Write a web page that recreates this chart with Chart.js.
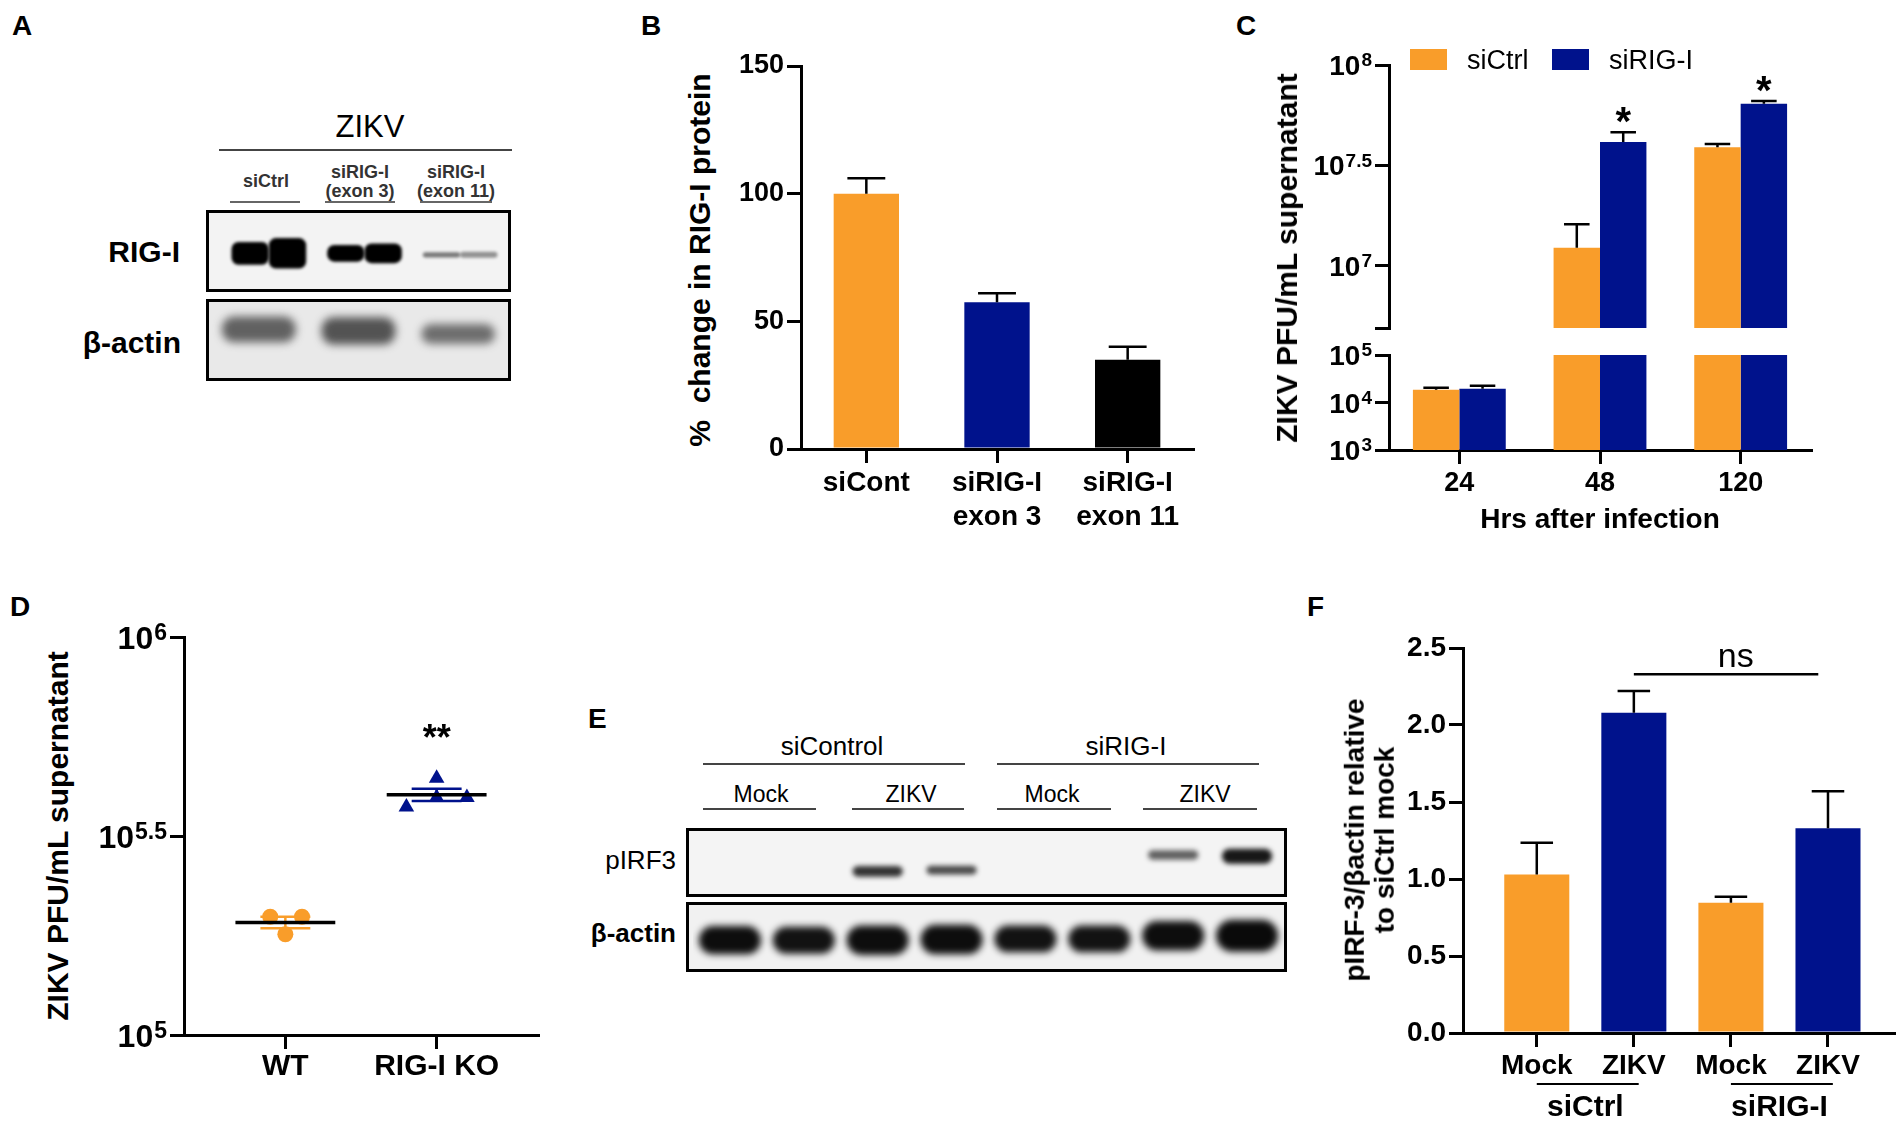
<!DOCTYPE html>
<html><head><meta charset="utf-8">
<script src="https://cdn.jsdelivr.net/npm/chart.js@4.4.1/dist/chart.umd.min.js"></script>
<style>
html,body{margin:0;padding:0;background:#fff;}
body{width:1904px;height:1125px;position:relative;overflow:hidden;font-family:"Liberation Sans",Arial,sans-serif;color:#000;}
canvas{position:absolute;}
.t{position:absolute;white-space:nowrap;transform:translate(-50%,-50%);line-height:1;}
.tr{position:absolute;white-space:nowrap;transform:translate(-100%,-50%);line-height:1;}
.tl{position:absolute;white-space:nowrap;transform:translate(0,-50%);line-height:1;}
.rot{position:absolute;white-space:nowrap;transform:translate(-50%,-50%) rotate(-90deg);font-weight:bold;text-align:center;}
.box{position:absolute;border:3px solid #000;box-sizing:border-box;overflow:hidden;}
.box canvas{left:0;top:0;}
.hl{position:absolute;height:2px;background:#555;}
.letter{position:absolute;font-weight:bold;font-size:28px;transform:translate(0,-50%);line-height:1;}
.sw{position:absolute;}
</style></head><body>

<!-- panel letters -->
<div class="letter" style="left:12px;top:26px">A</div>
<div class="letter" style="left:641px;top:26px">B</div>
<div class="letter" style="left:1236px;top:26px">C</div>
<div class="letter" style="left:10px;top:607px">D</div>
<div class="letter" style="left:588px;top:719px">E</div>
<div class="letter" style="left:1307px;top:607px">F</div>

<!-- Panel A blot -->
<div class="t" style="left:370px;top:126px;font-size:31px">ZIKV</div>
<div class="hl" style="left:219px;top:149px;width:293px;background:#444"></div>
<div class="t" style="left:266px;top:181px;font-size:18px;font-weight:bold;color:#333">siCtrl</div>
<div class="t" style="left:360px;top:172px;font-size:18px;font-weight:bold;color:#333">siRIG-I</div>
<div class="t" style="left:360px;top:191px;font-size:18px;font-weight:bold;color:#333">(exon 3)</div>
<div class="t" style="left:456px;top:172px;font-size:18px;font-weight:bold;color:#333">siRIG-I</div>
<div class="t" style="left:456px;top:191px;font-size:18px;font-weight:bold;color:#333">(exon 11)</div>
<div class="hl" style="left:230px;top:201px;width:70px;background:#666"></div>
<div class="hl" style="left:325px;top:201px;width:70px;background:#666"></div>
<div class="hl" style="left:420px;top:201px;width:72px;background:#666"></div>
<div class="tr" style="left:180px;top:252px;font-size:30px;font-weight:bold">RIG-I</div>
<div class="tr" style="left:181px;top:343px;font-size:30px;font-weight:bold">β-actin</div>
<div class="box" style="left:206px;top:210px;width:305px;height:82px;background:#f3f3f3"><canvas id="blotARig" width="299" height="76"></canvas></div>
<div class="box" style="left:206px;top:299px;width:305px;height:82px;background:#e9e9e9"><canvas id="blotAActin" width="299" height="76"></canvas></div>

<!-- Panel B -->
<canvas id="chartB" width="490" height="510" style="left:720px;top:40px"></canvas>
<div class="rot" style="left:700px;top:260px;font-size:30px">%&nbsp;&nbsp;change in RIG-I protein</div>

<!-- Panel C -->
<canvas id="chartCTop" width="530" height="320" style="left:1300px;top:20px"></canvas>
<canvas id="chartCBot" width="530" height="215" style="left:1300px;top:335px"></canvas>
<div class="rot" style="left:1287px;top:258px;font-size:30px">ZIKV PFU/mL supernatant</div>
<div class="t" style="left:1600px;top:519px;font-size:28px;font-weight:bold">Hrs after infection</div>
<div class="sw" style="left:1410px;top:49px;width:37px;height:21px;background:#F99D2A"></div>
<div class="tl" style="left:1467px;top:60px;font-size:27px">siCtrl</div>
<div class="sw" style="left:1552px;top:49px;width:37px;height:21px;background:#00128C"></div>
<div class="tl" style="left:1609px;top:60px;font-size:27px">siRIG-I</div>

<!-- Panel D -->
<canvas id="chartD" width="470" height="490" style="left:90px;top:610px"></canvas>
<div class="rot" style="left:58px;top:836px;font-size:30px">ZIKV PFU/mL supernatant</div>

<!-- Panel E blot -->
<div class="t" style="left:832px;top:746px;font-size:26px">siControl</div>
<div class="hl" style="left:703px;top:763px;width:262px;background:#444"></div>
<div class="t" style="left:1126px;top:746px;font-size:26px">siRIG-I</div>
<div class="hl" style="left:997px;top:763px;width:262px;background:#444"></div>
<div class="t" style="left:761px;top:794px;font-size:23px">Mock</div>
<div class="t" style="left:911px;top:794px;font-size:23px">ZIKV</div>
<div class="t" style="left:1052px;top:794px;font-size:23px">Mock</div>
<div class="t" style="left:1205px;top:794px;font-size:23px">ZIKV</div>
<div class="hl" style="left:703px;top:808px;width:113px;background:#444"></div>
<div class="hl" style="left:852px;top:808px;width:112px;background:#444"></div>
<div class="hl" style="left:997px;top:808px;width:114px;background:#444"></div>
<div class="hl" style="left:1143px;top:808px;width:114px;background:#444"></div>
<div class="tr" style="left:676px;top:860px;font-size:26px">pIRF3</div>
<div class="tr" style="left:676px;top:933px;font-size:26px;font-weight:bold">β-actin</div>
<div class="box" style="left:686px;top:828px;width:601px;height:69px;background:#f4f4f4"><canvas id="blotEPirf" width="595" height="63"></canvas></div>
<div class="box" style="left:686px;top:902px;width:601px;height:70px;background:#f1f1f1"><canvas id="blotEActin" width="595" height="64"></canvas></div>

<!-- Panel F -->
<canvas id="chartF" width="520" height="505" style="left:1380px;top:620px"></canvas>
<div class="rot" style="left:1370px;top:840px;font-size:28px;line-height:1.08">pIRF-3/βactin relative<br>to siCtrl mock</div>

<script>
// ---------------- DATA ----------------
const ORANGE = '#F99D2A', BLUE = '#00128C', BLACK = '#000000';

// Panel A blot (band intensity 0..1, vertical centre & thickness as fraction of the strip)
const aLanes = ['siCtrl', 'siRIG-I (exon 3)', 'siRIG-I (exon 11)'];
const aRigIntensity1 = [1.0, 1.0, 0.5];
const aRigIntensity2 = [1.0, 1.0, 0.4];
const aRigThick1 = [0.30, 0.22, 0.07];
const aRigThick2 = [0.40, 0.26, 0.08];
const aRigCenter = [0.47, 0.47, 0.45];
const aActinIntensity = [0.72, 0.8, 0.66];
const aActinCenter = [0.64, 0.62, 0.58];
const aActinThick = [0.34, 0.36, 0.26];

// Panel B
const bCategories = ['siCont', ['siRIG-I', 'exon 3'], ['siRIG-I', 'exon 11']];
const bValues = [100, 57.5, 35];
const bErrors = [6, 3.5, 5];
const bTicks = [0, 50, 100, 150];

// Panel C (PFU/mL)
const cHours = ['24', '48', '120'];
const cSiCtrl = [18600, 12300000, 38900000];
const cSiCtrlSem = [1800, 3800000, 1500000];
const cSiRIG = [19500, 41400000, 64100000];
const cSiRIGSem = [2900, 4800000, 2000000];
const cSig = ['', '*', '*'];
const cTopExp = [6.69, 7, 7.5, 8];      // upper segment ticks (first = segment end, unlabelled)
const cTopLabels = [7, 7.5, 8];
const cBotExp = [3, 4, 5];

// Panel D (PFU/mL)
const dGroups = ['WT', 'RIG-I KO'];
const dWT = [198200, 198200, 179100];
const dWTJitter = [-0.10, 0.11, 0.0];
const dKO = [374100, 441600, 395400, 395400];
const dKOJitter = [-0.20, 0.0, 0.0, 0.20];
const dExp = [5, 5.5, 6];
const dSig = ['', '**'];

// Panel E blot
const eLanes = ['Mock', 'Mock', 'ZIKV', 'ZIKV', 'Mock', 'Mock', 'ZIKV', 'ZIKV'];
const ePirfIntensity = [0, 0, 0.85, 0.75, 0, 0, 0.65, 0.97];
const ePirfCenter = [0.4, 0.4, 0.36, 0.38, 0.5, 0.5, 0.62, 0.60];
const ePirfThick = [0, 0, 0.17, 0.14, 0, 0, 0.15, 0.24];
const eActinIntensity = [0.97, 0.95, 0.97, 0.97, 0.95, 0.95, 0.97, 0.98];
const eActinCenter = [0.45, 0.45, 0.45, 0.46, 0.47, 0.47, 0.52, 0.52];
const eActinThick = [0.44, 0.42, 0.46, 0.46, 0.42, 0.42, 0.46, 0.5];

// Panel F
const fLabels = ['Mock', 'ZIKV', 'Mock', 'ZIKV'];
const fValues = [1.03, 2.08, 0.845, 1.33];
const fErrors = [0.205, 0.14, 0.04, 0.24];
const fColors = [ORANGE, BLUE, ORANGE, BLUE];
const fGroups = [{label: 'siCtrl', from: 0, to: 1}, {label: 'siRIG-I', from: 2, to: 3}];
const fNs = {from: 1, to: 3, value: 2.33, text: 'ns'};
const fTicks = [0, 0.5, 1.0, 1.5, 2.0, 2.5];

// ---------------- HELPERS ----------------
const FONT = '"Liberation Sans", Arial, sans-serif';
Chart.defaults.font.family = FONT;
Chart.defaults.color = '#000';

const tickGrid = {display: true, drawOnChartArea: false, drawTicks: true, tickLength: 14,
  color: '#000', lineWidth: 3, tickWidth: 3, tickColor: '#000'};
const axisBorder = {display: true, color: '#000', width: 3};
function zeroPad(s) { s.paddingLeft = 0; s.paddingRight = 0; s.paddingTop = 0; s.paddingBottom = 0; }
const baseOpts = {responsive: false, animation: false, events: []};

const errorBarPlugin = {
  id: 'errBars',
  afterDatasetsDraw(chart, args, opts) {
    const {ctx, chartArea} = chart;
    ctx.save();
    ctx.beginPath();
    ctx.rect(chartArea.left - 40, chartArea.top - 2, chartArea.width + 80, chartArea.height + 2);
    ctx.clip();
    chart.data.datasets.forEach((ds, di) => {
      if (!ds.errors) return;
      const meta = chart.getDatasetMeta(di);
      const ys = chart.scales[meta.yAxisID];
      meta.data.forEach((bar, i) => {
        const raw = ds.data[i];
        const v = (raw && typeof raw === 'object') ? raw.y : raw;
        if (v == null) return;
        const yTop = ys.getPixelForValue(v + ds.errors[i]);
        const w = bar.width * (opts.capRatio || 0.5);
        ctx.strokeStyle = '#000';
        ctx.lineWidth = opts.lineWidth || 2.5;
        ctx.beginPath();
        ctx.moveTo(bar.x, bar.y);
        ctx.lineTo(bar.x, yTop);
        ctx.moveTo(bar.x - w / 2, yTop);
        ctx.lineTo(bar.x + w / 2, yTop);
        ctx.stroke();
      });
    });
    ctx.restore();
    // significance marks
    chart.data.datasets.forEach((ds, di) => {
      if (!ds.sig) return;
      const meta = chart.getDatasetMeta(di);
      const ys = chart.scales[meta.yAxisID];
      meta.data.forEach((bar, i) => {
        const raw = ds.data[i];
        if (!ds.sig[i] || raw == null) return;
        const yTop = ys.getPixelForValue(raw + ds.errors[i]);
        ctx.save();
        ctx.fillStyle = '#000';
        ctx.font = 'bold ' + (opts.sigSize || 38) + 'px ' + FONT;
        ctx.textAlign = 'center';
        ctx.textBaseline = 'alphabetic';
        ctx.fillText(ds.sig[i], bar.x, yTop + (opts.sigOffset || 2));
        ctx.restore();
      });
    });
  }
};

const expLabelPlugin = {
  id: 'expLabels',
  afterDraw(chart, args, opts) {
    if (!opts || !opts.labels) return;
    const scale = chart.scales.y;
    const ctx = chart.ctx;
    const xr = scale.right - opts.tickLength - opts.pad;
    ctx.save();
    ctx.fillStyle = '#000';
    ctx.textBaseline = 'alphabetic';
    opts.labels.forEach(e => {
      const y = scale.getPixelForValue(Math.pow(10, e));
      const base = y + opts.baseSize * 0.36;
      const expStr = String(e);
      ctx.font = 'bold ' + opts.expSize + 'px ' + FONT;
      const we = ctx.measureText(expStr).width;
      ctx.textAlign = 'left';
      ctx.fillText(expStr, xr - we, base - 0.716 * (opts.baseSize - opts.expSize) - 0.08 * opts.baseSize);
      ctx.font = 'bold ' + opts.baseSize + 'px ' + FONT;
      ctx.textAlign = 'right';
      ctx.fillText('10', xr - we - 1, base);
    });
    ctx.restore();
  }
};

const meanSemPlugin = {
  id: 'meanSem',
  afterDatasetsDraw(chart, args, opts) {
    const {ctx} = chart;
    const xs = chart.scales.x, ys = chart.scales.y;
    chart.data.datasets.forEach(ds => {
      const vals = ds.data.map(p => p.y);
      const n = vals.length;
      const mean = vals.reduce((a, b) => a + b, 0) / n;
      const sd = Math.sqrt(vals.reduce((a, b) => a + (b - mean) * (b - mean), 0) / (n - 1));
      const sem = sd / Math.sqrt(n);
      const cx = ds.center;
      const ym = ys.getPixelForValue(mean);
      const yu = ys.getPixelForValue(mean + sem);
      const yl = ys.getPixelForValue(mean - sem);
      ctx.save();
      ctx.strokeStyle = ds.borderColor;
      ctx.lineWidth = opts.semWidth;
      ctx.beginPath();
      ctx.moveTo(xs.getPixelForValue(cx - opts.semHalf), yu); ctx.lineTo(xs.getPixelForValue(cx + opts.semHalf), yu);
      ctx.moveTo(xs.getPixelForValue(cx - opts.semHalf), yl); ctx.lineTo(xs.getPixelForValue(cx + opts.semHalf), yl);
      ctx.moveTo(xs.getPixelForValue(cx), yu); ctx.lineTo(xs.getPixelForValue(cx), yl);
      ctx.stroke();
      ctx.strokeStyle = '#000';
      ctx.lineWidth = opts.meanWidth;
      ctx.beginPath();
      ctx.moveTo(xs.getPixelForValue(cx - opts.meanHalf), ym); ctx.lineTo(xs.getPixelForValue(cx + opts.meanHalf), ym);
      ctx.stroke();
      if (ds.sig) {
        const ymax = ys.getPixelForValue(Math.max(...vals));
        ctx.fillStyle = '#000';
        ctx.font = 'bold 36px ' + FONT;
        ctx.textAlign = 'center';
        ctx.textBaseline = 'alphabetic';
        ctx.fillText(ds.sig, xs.getPixelForValue(cx), ymax - 28);
      }
      ctx.restore();
    });
  }
};

const fAnnotPlugin = {
  id: 'fAnnot',
  afterDraw(chart, args, opts) {
    const {ctx} = chart;
    const xs = chart.scales.x, ys = chart.scales.y;
    ctx.save();
    ctx.strokeStyle = '#000';
    ctx.fillStyle = '#000';
    // ns bracket
    const yNs = ys.getPixelForValue(fNs.value);
    ctx.lineWidth = 2.5;
    ctx.beginPath();
    ctx.moveTo(xs.getPixelForValue(fNs.from), yNs);
    ctx.lineTo(xs.getPixelForValue(fNs.to - 0.1), yNs);
    ctx.stroke();
    ctx.font = '34px ' + FONT;
    ctx.textAlign = 'center';
    ctx.textBaseline = 'alphabetic';
    ctx.fillText(fNs.text, xs.getPixelForValue((fNs.from + fNs.to) / 2 + 0.05), yNs - 7);
    // group labels under the axis
    ctx.lineWidth = 2;
    ctx.font = 'bold 30px ' + FONT;
    ctx.textBaseline = 'middle';
    fGroups.forEach(g => {
      const yl = xs.top + 51;
      ctx.beginPath();
      ctx.moveTo(xs.getPixelForValue(g.from), yl);
      ctx.lineTo(xs.getPixelForValue(g.to + 0.05), yl);
      ctx.stroke();
      ctx.fillText(g.label, xs.getPixelForValue((g.from + g.to) / 2), xs.top + 75);
    });
    ctx.restore();
  }
};

const blurPlugin = {
  id: 'blur',
  beforeDatasetsDraw(chart, args, opts) { chart.ctx.save(); chart.ctx.filter = 'blur(' + opts.px + 'px)'; },
  afterDatasetsDraw(chart) { chart.ctx.restore(); }
};

function bandData(center, thick) { return center.map((c, i) => [c - thick[i] / 2, c + thick[i] / 2]); }
function bandColors(intensity, rgb) { return intensity.map(a => 'rgba(' + rgb + ',' + a + ')'); }

function makeBlot(id, lanes, datasets, blurPx, catPct, padL, padR, radius) {
  new Chart(document.getElementById(id), {
    type: 'bar',
    data: {labels: lanes, datasets: datasets.map(d => Object.assign({
      borderSkipped: false, borderRadius: radius, borderWidth: 0,
      categoryPercentage: catPct, barPercentage: 1, grouped: true}, d))},
    options: Object.assign({}, baseOpts, {
      layout: {padding: {left: padL, right: padR, top: 0, bottom: 0}},
      scales: {x: {display: false}, y: {display: false, min: 0, max: 1}},
      plugins: {legend: {display: false}, tooltip: {enabled: false}, blur: {px: blurPx}}
    }),
    plugins: [blurPlugin]
  });
}

// ---------------- PANEL A ----------------
makeBlot('blotARig', aLanes, [
  {data: bandData(aRigCenter, aRigThick1), backgroundColor: bandColors(aRigIntensity1, '0,0,0')},
  {data: bandData(aRigCenter, aRigThick2), backgroundColor: bandColors(aRigIntensity2, '0,0,0')}
], 1.8, 0.78, 12, 0, 7);
makeBlot('blotAActin', aLanes, [
  {data: bandData(aActinCenter, aActinThick), backgroundColor: bandColors(aActinIntensity, '45,45,45')}
], 4, 0.74, 0, 0, 12);

// ---------------- PANEL B ----------------
new Chart(document.getElementById('chartB'), {
  type: 'bar',
  data: {labels: bCategories, datasets: [{data: bValues, errors: bErrors,
    backgroundColor: [ORANGE, BLUE, BLACK], barPercentage: 0.5, categoryPercentage: 1}]},
  options: Object.assign({}, baseOpts, {
    layout: {padding: {top: 26, right: 17, left: 0, bottom: 0}},
    scales: {
      x: {grid: Object.assign({}, tickGrid, {offset: false}), border: axisBorder,
        ticks: {font: {size: 28, weight: 'bold', lineHeight: 1.22}, padding: 3, maxRotation: 0, autoSkip: false},
        afterFit: s => { s.height = 101; zeroPad(s); }},
      y: {min: 0, max: 150, grid: tickGrid, border: axisBorder,
        ticks: {font: {size: 27, weight: 'bold'}, padding: 3},
        afterBuildTicks: s => { s.ticks = bTicks.map(v => ({value: v})); },
        afterFit: s => { s.width = 81; zeroPad(s); }}
    },
    plugins: {legend: {display: false}, tooltip: {enabled: false}, errBars: {capRatio: 0.58, lineWidth: 2.5}}
  }),
  plugins: [errorBarPlugin]
});

// ---------------- PANEL C ----------------
const cTopMin = Math.pow(10, cTopExp[0]);
new Chart(document.getElementById('chartCTop'), {
  type: 'bar',
  data: {labels: cHours, datasets: [
    {label: 'siCtrl', data: cSiCtrl.map(v => v >= cTopMin ? v : null), errors: cSiCtrlSem,
      backgroundColor: ORANGE, categoryPercentage: 0.66, barPercentage: 1},
    {label: 'siRIG-I', data: cSiRIG.map(v => v >= cTopMin ? v : null), errors: cSiRIGSem, sig: cSig,
      backgroundColor: BLUE, categoryPercentage: 0.66, barPercentage: 1}
  ]},
  options: Object.assign({}, baseOpts, {
    layout: {padding: {top: 45, right: 19, left: 0, bottom: 12}},
    scales: {
      x: {display: false},
      y: {type: 'logarithmic', min: cTopMin, max: 1e8, grid: tickGrid, border: axisBorder,
        ticks: {display: false},
        afterBuildTicks: s => { s.ticks = cTopExp.map(e => ({value: Math.pow(10, e)})); },
        afterFit: s => { s.width = 89; zeroPad(s); }}
    },
    plugins: {legend: {display: false}, tooltip: {enabled: false},
      errBars: {capRatio: 0.55, lineWidth: 2.5, sigSize: 40, sigOffset: 3},
      expLabels: {labels: cTopLabels, baseSize: 28, expSize: 19, tickLength: 14, pad: 3}}
  }),
  plugins: [errorBarPlugin, expLabelPlugin]
});

new Chart(document.getElementById('chartCBot'), {
  type: 'bar',
  data: {labels: cHours, datasets: [
    {label: 'siCtrl', data: cSiCtrl, errors: cSiCtrlSem, backgroundColor: ORANGE, categoryPercentage: 0.66, barPercentage: 1},
    {label: 'siRIG-I', data: cSiRIG, errors: cSiRIGSem, backgroundColor: BLUE, categoryPercentage: 0.66, barPercentage: 1}
  ]},
  options: Object.assign({}, baseOpts, {
    layout: {padding: {top: 20, right: 19, left: 0, bottom: 0}},
    scales: {
      x: {grid: Object.assign({}, tickGrid, {offset: false}), border: axisBorder,
        ticks: {font: {size: 27, weight: 'bold'}, padding: 3, maxRotation: 0, autoSkip: false},
        afterFit: s => { s.height = 100; zeroPad(s); }},
      y: {type: 'logarithmic', min: 1e3, max: 1e5, grid: tickGrid, border: axisBorder,
        ticks: {display: false},
        afterBuildTicks: s => { s.ticks = cBotExp.map(e => ({value: Math.pow(10, e)})); },
        afterFit: s => { s.width = 89; zeroPad(s); }}
    },
    plugins: {legend: {display: false}, tooltip: {enabled: false},
      errBars: {capRatio: 0.55, lineWidth: 2.5},
      expLabels: {labels: cBotExp, baseSize: 28, expSize: 19, tickLength: 14, pad: 3}}
  }),
  plugins: [errorBarPlugin, expLabelPlugin]
});

// ---------------- PANEL D ----------------
new Chart(document.getElementById('chartD'), {
  type: 'scatter',
  data: {datasets: [
    {label: dGroups[0], data: dWT.map((v, i) => ({x: 1 + dWTJitter[i], y: v})), center: 1, sig: dSig[0],
      pointStyle: 'circle', pointRadius: 8, backgroundColor: ORANGE, borderColor: ORANGE, borderWidth: 0},
    {label: dGroups[1], data: dKO.map((v, i) => ({x: 2 + dKOJitter[i], y: v})), center: 2, sig: dSig[1],
      pointStyle: 'triangle', pointRadius: 9, backgroundColor: BLUE, borderColor: BLUE, borderWidth: 0}
  ]},
  options: Object.assign({}, baseOpts, {
    layout: {padding: {top: 27, right: 22, left: 0, bottom: 0}},
    scales: {
      x: {type: 'linear', min: 0.33, max: 2.67, grid: tickGrid, border: axisBorder,
        afterBuildTicks: s => { s.ticks = dGroups.map((g, i) => ({value: i + 1})); },
        ticks: {font: {size: 30, weight: 'bold'}, padding: 0, maxRotation: 0, autoSkip: false,
          callback: (v, i) => dGroups[i]},
        afterFit: s => { s.height = 65; zeroPad(s); }},
      y: {type: 'logarithmic', min: 1e5, max: 1e6, grid: tickGrid, border: axisBorder,
        ticks: {display: false},
        afterBuildTicks: s => { s.ticks = dExp.map(e => ({value: Math.pow(10, e)})); },
        afterFit: s => { s.width = 94; zeroPad(s); }}
    },
    plugins: {legend: {display: false}, tooltip: {enabled: false},
      meanSem: {semWidth: 2.5, meanWidth: 3.5, semHalf: 0.165, meanHalf: 0.33},
      expLabels: {labels: dExp, baseSize: 32, expSize: 23, tickLength: 14, pad: 3}}
  }),
  plugins: [meanSemPlugin, expLabelPlugin]
});

// ---------------- PANEL E ----------------
makeBlot('blotEPirf', eLanes, [
  {data: bandData(ePirfCenter, ePirfThick), backgroundColor: bandColors(ePirfIntensity, '15,15,15')}
], 2.5, 0.68, 4, 0, 30);
makeBlot('blotEActin', eLanes, [
  {data: bandData(eActinCenter, eActinThick), backgroundColor: bandColors(eActinIntensity, '5,5,5')}
], 3.5, 0.84, 4, 0, 30);

// ---------------- PANEL F ----------------
new Chart(document.getElementById('chartF'), {
  type: 'bar',
  data: {datasets: [{data: fValues.map((v, i) => ({x: i, y: v})), errors: fErrors,
    backgroundColor: fColors, barPercentage: 0.67, categoryPercentage: 1}]},
  options: Object.assign({}, baseOpts, {
    layout: {padding: {top: 28, right: 6, left: 0, bottom: 0}},
    scales: {
      x: {type: 'linear', min: -0.76, max: 3.68, offset: false, grid: Object.assign({}, tickGrid, {offset: false}), border: axisBorder,
        afterBuildTicks: s => { s.ticks = fLabels.map((l, i) => ({value: i})); },
        ticks: {font: {size: 28, weight: 'bold'}, padding: 2, maxRotation: 0, autoSkip: false,
          callback: (v, i) => fLabels[i]},
        afterFit: s => { s.height = 92; zeroPad(s); }},
      y: {min: 0, max: 2.5, grid: tickGrid, border: axisBorder,
        afterBuildTicks: s => { s.ticks = fTicks.map(v => ({value: v})); },
        ticks: {font: {size: 28, weight: 'bold'}, padding: 3, callback: v => Number(v).toFixed(1)},
        afterFit: s => { s.width = 83; zeroPad(s); }}
    },
    plugins: {legend: {display: false}, tooltip: {enabled: false}, errBars: {capRatio: 0.5, lineWidth: 2.5}}
  }),
  plugins: [errorBarPlugin, fAnnotPlugin]
});
</script>
</body></html>
